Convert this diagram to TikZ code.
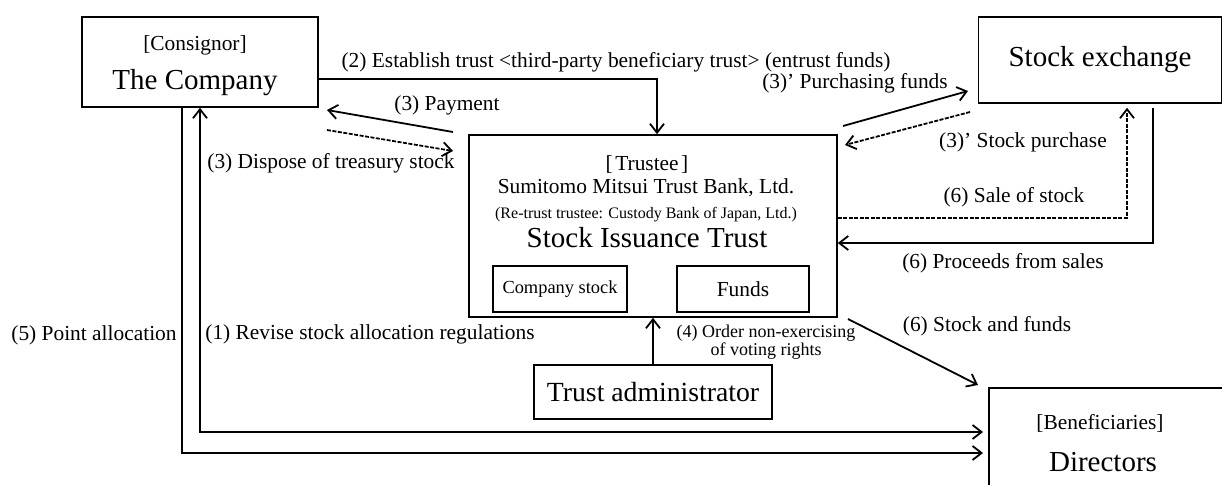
\documentclass[tikz,border=0pt]{standalone}
\usepackage{fontspec}
\setmainfont{Liberation Serif}
\usetikzlibrary{arrows.meta}

\newcommand{\bigsize}{\fontsize{29}{32}\selectfont}
\newcommand{\labsize}{\fontsize{21.4}{24}\selectfont}
\newcommand{\smallsize}{\fontsize{18}{16}\selectfont}

\begin{document}
\begin{tikzpicture}[x=1pt,y=-1pt,->,>={Straight Barb[length=9pt,width=14pt]},
	line width=1.8pt,
	box node/.style={draw,rectangle,inner sep=0pt,line width=1.6pt},
	lab node/.style={inner sep=0pt,font=\labsize},
	dash line/.style={dash pattern=on 4pt off 1.5pt}]
	
	\clip (0,0) rectangle (1222,484);
	
	% boxes
	\node[box node,minimum width=236pt,minimum height=90pt] (company) at (200,62) {};
	\node[lab node] (consignor) at (195,45) {[Consignor]};
	\node[inner sep=0pt,font=\bigsize] (companyname) at (195,83) {The Company};
	
	\node[box node,minimum width=243pt,minimum height=86pt,font=\bigsize] (exchange) at (1100,60) {Stock exchange};
	
	\node[box node,minimum width=368pt,minimum height=182pt] (trust) at (653,226) {};
	\node[lab node] (trustee) at (647,165) {[\hspace{2.5pt}Trustee\hspace{2.5pt}]};
	\node[lab node] (bank) at (646,188) {Sumitomo Mitsui Trust Bank, Ltd.};
	\node[inner sep=0pt,font=\fontsize{16}{18}\selectfont] (retrust) at (646,215) {(Re-trust trustee: Custody Bank of Japan, Ltd.)};
	\node[inner sep=0pt,font=\bigsize] (issuance) at (647,238) {Stock Issuance Trust};
	\node[box node,minimum width=134pt,minimum height=46pt,font=\fontsize{18.4}{20}\selectfont] (cstock) at (560,289) {Company stock};
	\node[box node,minimum width=132pt,minimum height=46pt,font=\labsize] (funds) at (743,289) {Funds};
	
	\node[box node,minimum width=238pt,minimum height=54pt,font=\fontsize{27.7}{30}\selectfont] (admin) at (653,392) {Trust administrator};
	
	\node[box node,minimum width=260pt,minimum height=120pt,anchor=north west] (directors) at (988,387) {};
	\node[lab node] (beneficiaries) at (1100,423) {[Beneficiaries]};
	\node[inner sep=0pt,font=\bigsize] (directorsname) at (1103,462) {Directors};
	
	% labels
	\node[lab node] (l2) at (616,62) {(2) Establish trust <third-party beneficiary trust> (entrust funds)};
	\node[lab node] (l3a) at (447,105) {(3) Payment};
	\node[lab node] (l3b) at (331,163) {(3) Dispose of treasury stock};
	\node[lab node] (l3c) at (855,83) {(3)’ Purchasing funds};
	\node[lab node] (l3d) at (1023,142) {(3)’ Stock purchase};
	\node[lab node] (l6a) at (1014,197) {(6) Sale of stock};
	\node[lab node] (l6b) at (1003,263) {(6) Proceeds from sales};
	\node[lab node] (l6c) at (987,326) {(6) Stock and funds};
	\node[lab node] (l5) at (94,335) {(5) Point allocation};
	\node[lab node] (l1) at (370,334) {(1) Revise stock allocation regulations};
	\node[inner sep=0pt,font=\smallsize,align=center] (l4) at (766,342) {(4) Order non-exercising\\of voting rights};
	
	% free ends of the slanted arrows
	\coordinate (pay1) at (453,132);
	\coordinate (pay2) at (327,110);
	\coordinate (disp1) at (327,130);
	\coordinate (disp2) at (453,151);
	\coordinate (pur1) at (843,126);
	\coordinate (pur2) at (968,91);
	\coordinate (buy1) at (970,112);
	\coordinate (buy2) at (845,145);
	\coordinate (give1) at (848,319);
	\coordinate (give2) at (978,385);
	% corners of the routed arrows
	\coordinate (c2) at (657,79);
	\coordinate (sale) at (1127,218);
	\coordinate (proc) at (1153,243);
	\coordinate (p5) at (182,453);
	\coordinate (p1) at (200,432);
	
	\draw (company.east |- c2) -- (c2) -- (trust.north -| c2);
	\draw (pay1) -- (pay2);
	\draw[dash line] (disp1) -- (disp2);
	\draw (pur1) -- (pur2);
	\draw[dash line] (buy1) -- (buy2);
	\draw[dash line,shorten >=4pt] (trust.east |- sale) -- (sale) -- (exchange.south -| sale);
	\draw[shorten <=4pt] (exchange.south -| proc) -- (proc) -- (trust.east |- proc);
	\draw (admin.north) -- (trust.south -| admin.north);
	\draw (give1) -- (give2);
	\draw[shorten >=5pt] (company.south -| p5) -- (p5) -- (directors.west |- p5);
	\draw[<->,shorten >=5pt] (company.south -| p1) -- (p1) -- (directors.west |- p1);
\end{tikzpicture}
\end{document}
